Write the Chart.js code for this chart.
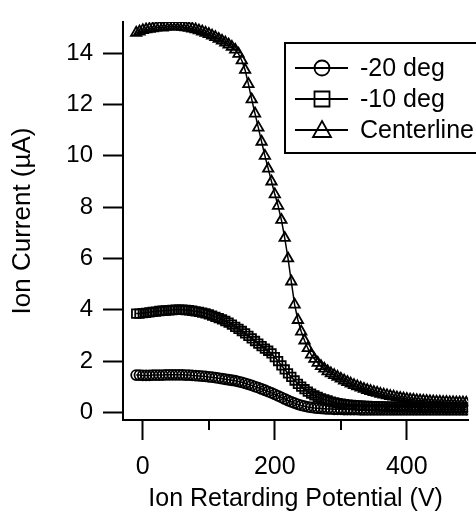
<!DOCTYPE html>
<html>
<head>
<meta charset="utf-8">
<style>
  body { margin: 0; background: #fff; }
  #wrap { width: 476px; height: 522px; }
</style>
</head>
<body>
<div id="wrap"><canvas id="myChart" width="476" height="522"></canvas></div>
<script src="https://cdn.jsdelivr.net/npm/chart.js"></script>
<script>
// retarding potential (V)
const potential = [
  -10, -5, 0, 5, 10, 15, 20, 25, 30, 35,
  40, 45, 50, 55, 60, 65, 70, 75, 80, 85,
  90, 95, 100, 105, 110, 115, 120, 125, 130, 135,
  140, 145, 150, 155, 160, 165, 170, 175, 180, 185,
  190, 195, 200, 205, 210, 215, 220, 225, 230, 235,
  240, 245, 250, 255, 260, 265, 270, 275, 280, 285,
  290, 295, 300, 305, 310, 315, 320, 325, 330, 335,
  340, 345, 350, 355, 360, 365, 370, 375, 380, 385,
  390, 395, 400, 405, 410, 415, 420, 425, 430, 435,
  440, 445, 450, 455, 460, 465, 470, 475, 480, 485,
  490,
]

// ion current (uA)
const minus20 = [
  1.45, 1.45, 1.44, 1.44, 1.44, 1.45, 1.45, 1.45, 1.45, 1.46,
  1.46, 1.46, 1.46, 1.46, 1.46, 1.45, 1.45, 1.44, 1.43, 1.42,
  1.41, 1.4, 1.38, 1.37, 1.35, 1.33, 1.31, 1.29, 1.27, 1.25,
  1.23, 1.2, 1.17, 1.13, 1.09, 1.05, 1.0, 0.96, 0.91, 0.86,
  0.81, 0.76, 0.7, 0.64, 0.58, 0.52, 0.46, 0.41, 0.36, 0.31,
  0.27, 0.24, 0.21, 0.19, 0.17, 0.16, 0.15, 0.14, 0.13, 0.13,
  0.12, 0.12, 0.12, 0.11, 0.11, 0.11, 0.11, 0.11, 0.1, 0.1,
  0.1, 0.1, 0.1, 0.1, 0.1, 0.1, 0.1, 0.1, 0.1, 0.1,
  0.1, 0.1, 0.1, 0.1, 0.1, 0.1, 0.1, 0.1, 0.1, 0.1,
  0.1, 0.1, 0.1, 0.1, 0.1, 0.1, 0.1, 0.1, 0.1, 0.1,
  0.1,
]
const minus10 = [
  3.85, 3.85, 3.87, 3.88, 3.9, 3.92, 3.93, 3.95, 3.96, 3.97,
  3.98, 3.99, 4.0, 4.0, 4.0, 3.99, 3.98, 3.96, 3.94, 3.92,
  3.89, 3.86, 3.82, 3.77, 3.72, 3.67, 3.62, 3.56, 3.5, 3.42,
  3.33, 3.25, 3.17, 3.08, 2.98, 2.88, 2.78, 2.68, 2.58, 2.48,
  2.4, 2.3, 2.15, 2.0, 1.83, 1.67, 1.52, 1.38, 1.24, 1.11,
  1.0, 0.9, 0.81, 0.73, 0.66, 0.6, 0.54, 0.5, 0.46, 0.42,
  0.39, 0.36, 0.34, 0.32, 0.3, 0.29, 0.28, 0.27, 0.26, 0.25,
  0.25, 0.24, 0.24, 0.23, 0.23, 0.22, 0.22, 0.22, 0.21, 0.21,
  0.21, 0.21, 0.2, 0.2, 0.2, 0.2, 0.2, 0.19, 0.19, 0.19,
  0.19, 0.19, 0.19, 0.18, 0.18, 0.18, 0.18, 0.18, 0.18, 0.18,
  0.18,
]
const centerline = [
  14.8, 14.85, 14.9, 14.93, 14.95, 14.97, 15.0, 15.02, 15.0, 15.03,
  15.05, 15.05, 15.05, 15.04, 15.03, 15.01, 14.99, 14.96, 14.93, 14.89,
  14.85, 14.8, 14.75, 14.69, 14.63, 14.56, 14.49, 14.42, 14.34, 14.25,
  14.14, 13.98, 13.72, 13.35, 12.8, 12.2, 11.65, 11.1, 10.55, 10.0,
  9.5, 9.0, 8.5, 8.05, 7.5, 6.8, 6.0, 5.1, 4.2, 3.6,
  3.15, 2.8, 2.5, 2.25, 2.08, 1.93, 1.8, 1.7, 1.6, 1.52,
  1.45, 1.38, 1.31, 1.24, 1.18, 1.12, 1.06, 1.01, 0.96, 0.91,
  0.87, 0.83, 0.79, 0.76, 0.72, 0.69, 0.66, 0.63, 0.61, 0.58,
  0.56, 0.54, 0.52, 0.5, 0.49, 0.47, 0.46, 0.45, 0.44, 0.43,
  0.42, 0.41, 0.41, 0.4, 0.4, 0.39, 0.39, 0.38, 0.38, 0.38,
  0.37,
]

const xTicksMajor = [0, 200, 400]
const xTicksMinor = [100, 300]

const font = "'Liberation Sans', Arial, Helvetica, sans-serif"

function pts(values) {
  return potential.map((v, i) => ({ x: v, y: values[i] }))
}

function series(label, values, style, radius) {
  return {
    label: label,
    data: pts(values),
    borderColor: "#000",
    borderWidth: 1.5,
    backgroundColor: "rgba(0,0,0,0)",
    pointStyle: style,
    pointRadius: radius,
    pointBorderWidth: 1.8,
    pointBorderColor: "#000",
    pointBackgroundColor: "rgba(0,0,0,0)",
    tension: 0,
  }
}

function drawMarker(c, style, x, y) {
  c.beginPath()
  if (style === "circle") {
    c.arc(x, y, 7.5, 0, Math.PI * 2)
  } else if (style === "rect") {
    c.rect(x - 7.5, y - 7.5, 15, 15)
  } else {
    c.moveTo(x, y - 9)
    c.lineTo(x + 9, y + 7)
    c.lineTo(x - 9, y + 7)
    c.closePath()
  }
  c.stroke()
}

// legend box with line + marker samples
const legendBox = {
  id: "legendBox",
  afterDatasetsDraw(chart) {
    const c = chart.ctx
    const area = chart.chartArea
    const left = area.left + 162
    const top = area.top + 21
    c.save()
    c.fillStyle = "#fff"
    c.fillRect(left, top, chart.width - left + 10, 110)
    c.strokeStyle = "#000"
    c.lineWidth = 2
    c.strokeRect(left, top, chart.width - left + 10, 110)
    c.font = "25px " + font
    c.textBaseline = "middle"
    c.textAlign = "left"
    chart.data.datasets.forEach((ds, i) => {
      const y = top + 25 + i * 31
      c.strokeStyle = "#000"
      c.lineWidth = 1.8
      c.beginPath()
      c.moveTo(left + 10, y)
      c.lineTo(left + 63, y)
      c.stroke()
      drawMarker(c, ds.pointStyle, left + 37, y)
      c.fillStyle = "#000"
      c.fillText(ds.label, left + 75, y + 1)
    })
    c.restore()
  },
}

// short minor ticks on the x axis
const minorTicks = {
  id: "minorTicks",
  afterDraw(chart) {
    const c = chart.ctx
    const sx = chart.scales.x
    c.save()
    c.strokeStyle = "#000"
    c.lineWidth = 2
    xTicksMinor.forEach((v) => {
      const px = Math.round(sx.getPixelForValue(v))
      c.beginPath()
      c.moveTo(px, sx.top)
      c.lineTo(px, sx.top + 10)
      c.stroke()
    })
    c.restore()
  },
}

const ctx = document.getElementById("myChart")
const myChart = new Chart(ctx, {
  type: "line",
  data: {
    datasets: [
      series("-20 deg", minus20, "circle", 5),
      series("-10 deg", minus10, "rect", 6),
      series("Centerline", centerline, "triangle", 6),
    ],
  },
  options: {
    responsive: false,
    animation: false,
    layout: { padding: { top: 12, right: 0, left: 0, bottom: 0 } },
    scales: {
      x: {
        type: "linear",
        min: -30,
        max: 493,
        afterFit: (scale) => { scale.height = 102 },
        ticks: {
          stepSize: 200,
          includeBounds: false,
          color: "#000",
          padding: 12,
          font: { family: font, size: 25, lineHeight: 1.2 },
        },
        afterBuildTicks: (scale) => {
          scale.ticks = xTicksMajor.map((v) => ({ value: v }))
        },
        grid: {
          drawOnChartArea: false,
          drawTicks: true,
          tickLength: 20,
          tickWidth: 2,
          tickColor: "#000",
        },
        border: { display: true, color: "#000", width: 2 },
        title: {
          display: true,
          text: "Ion Retarding Potential (V)",
          color: "#000",
          font: { family: font, size: 25 },
          padding: { top: 0, bottom: 8 },
        },
      },
      y: {
        min: -0.3,
        max: 15.22,
        afterFit: (scale) => { scale.width = 123 },
        ticks: {
          stepSize: 2,
          includeBounds: false,
          color: "#000",
          padding: 10,
          font: { family: font, size: 24, lineHeight: 1 },
        },
        grid: {
          drawOnChartArea: false,
          drawTicks: true,
          tickLength: 20,
          tickWidth: 2,
          tickColor: "#000",
        },
        border: { display: true, color: "#000", width: 2 },
        title: {
          display: true,
          text: "Ion Current (µA)",
          color: "#000",
          font: { family: font, size: 26 },
          padding: { top: 7, bottom: 0 },
        },
      },
    },
    plugins: {
      legend: { display: false },
      tooltip: { enabled: false },
    },
  },
  plugins: [legendBox, minorTicks],
})
</script>
</body>
</html>
